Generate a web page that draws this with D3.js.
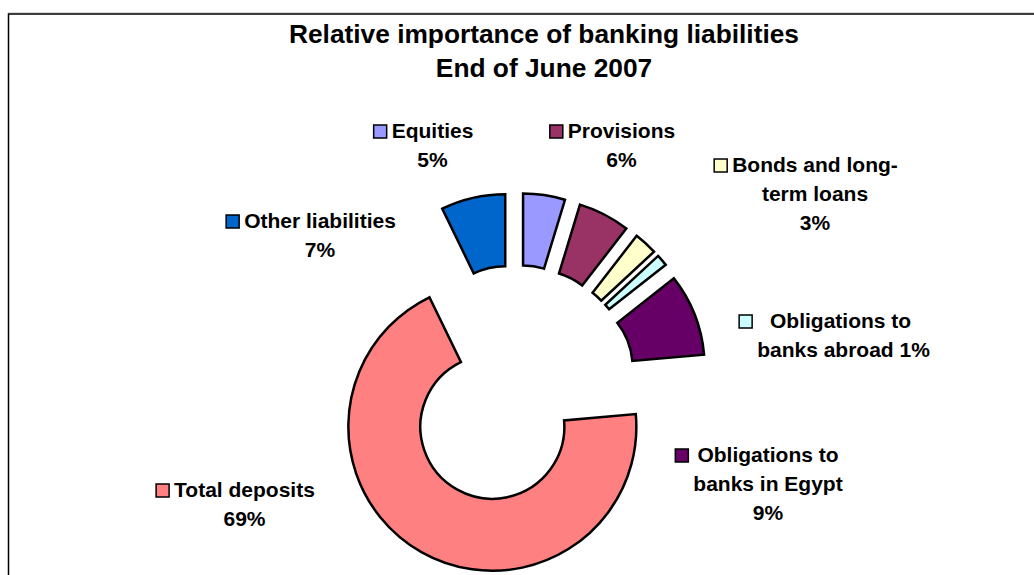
<!DOCTYPE html>
<html>
<head>
<meta charset="utf-8">
<script src="https://cdn.jsdelivr.net/npm/d3@7"></script>
<style>
  html, body { margin: 0; padding: 0; background: #fff; }
  svg { display: block; }
  text { font-family: "Liberation Sans", Arial, sans-serif; font-weight: bold; fill: #000; }
</style>
</head>
<body>
<svg id="chart" width="1034" height="575"></svg>
<script>
// Shares of total banking liabilities (%), end of June 2007, clockwise from 12 o'clock
const categories = [
  "Equities",
  "Provisions",
  "Bonds and long-term loans",
  "Obligations to banks abroad",
  "Obligations to banks in Egypt",
  "Total deposits",
  "Other liabilities"
];
const shares = [4.7, 5.8, 2.6, 1.3, 9.2, 69.2, 7.2];
const colors = ["#9999FF", "#993366", "#FFFFCC", "#CCFFFF", "#660066", "#FF8080", "#0066CC"];

// Wrapped label text for each slice; "%" marks where the rounded share goes
const labelLines = [
  ["Equities", "%"],
  ["Provisions", "%"],
  ["Bonds and long-", "term loans", "%"],
  ["Obligations to ", "banks abroad %"],
  ["Obligations to", "banks in Egypt", "%"],
  ["Total deposits", "%"],
  ["Other liabilities", "%"]
];
// Label block anchors: centre x and first baseline y
const labelX = [432.5, 621.5, 815, 843.5, 768, 244.5, 320];
const labelY = [138, 138, 172, 328, 462, 497, 228];

const titleLines = ["Relative importance of banking liabilities", "End of June 2007"];

const W = 1034, H = 575;
const svg = d3.select("#chart");

// chart area frame
svg.append("line").attr("x1", 8).attr("x2", W + 5).attr("y1", 12.8).attr("y2", 12.8)
  .attr("stroke", "#c8c8c8").attr("stroke-width", 1);
svg.append("rect").attr("x", 8.5).attr("y", 14).attr("width", W + 10).attr("height", H + 10)
  .attr("fill", "none").attr("stroke", "#000").attr("stroke-width", 1.5);

// title
svg.append("g").selectAll("text").data(titleLines).join("text")
  .attr("x", 544).attr("y", (d, i) => 43 + i * 33.5)
  .attr("text-anchor", "middle").attr("font-size", 26.3).text(d => d);

// exploded doughnut
const cx = 516, cy = 385, outerR = 144, innerR = 72, explode = 48;
const pie = d3.pie().sort(null).value(d => d).startAngle(0).endAngle(2 * Math.PI);
const arc = d3.arc().innerRadius(innerR).outerRadius(outerR);
const arcs = pie(shares);

svg.append("g").attr("transform", `translate(${cx},${cy})`)
  .selectAll("path").data(arcs).join("path")
  .attr("transform", d => {
    const m = (d.startAngle + d.endAngle) / 2;
    return `translate(${explode * Math.sin(m)},${-explode * Math.cos(m)})`;
  })
  .attr("d", arc)
  .attr("fill", (d, i) => colors[i])
  .attr("stroke", "#000").attr("stroke-width", 2.5).attr("stroke-linejoin", "miter");

// data labels with legend keys
const pct = d3.format(".0f");
const total = d3.sum(shares);
const lh = 29, key = 13, keyGap = 5;

categories.forEach((name, i) => {
  const g = svg.append("g");
  const p = pct(shares[i] / total * 100) + "%";
  const texts = g.selectAll("text").data(labelLines[i]).join("text")
    .attr("x", labelX[i]).attr("y", (d, j) => labelY[i] + j * lh)
    .attr("text-anchor", "middle").attr("font-size", 21).attr("xml:space", "preserve")
    .text(d => d.replace("%", p));
  let maxW = 0;
  texts.each(function () { maxW = Math.max(maxW, this.getComputedTextLength()); });
  const left = labelX[i] - maxW / 2;
  g.append("rect")
    .attr("x", left - keyGap - key).attr("y", labelY[i] - key)
    .attr("width", key).attr("height", key)
    .attr("fill", colors[i]).attr("stroke", "#000").attr("stroke-width", 1.5);
});
</script>
</body>
</html>
